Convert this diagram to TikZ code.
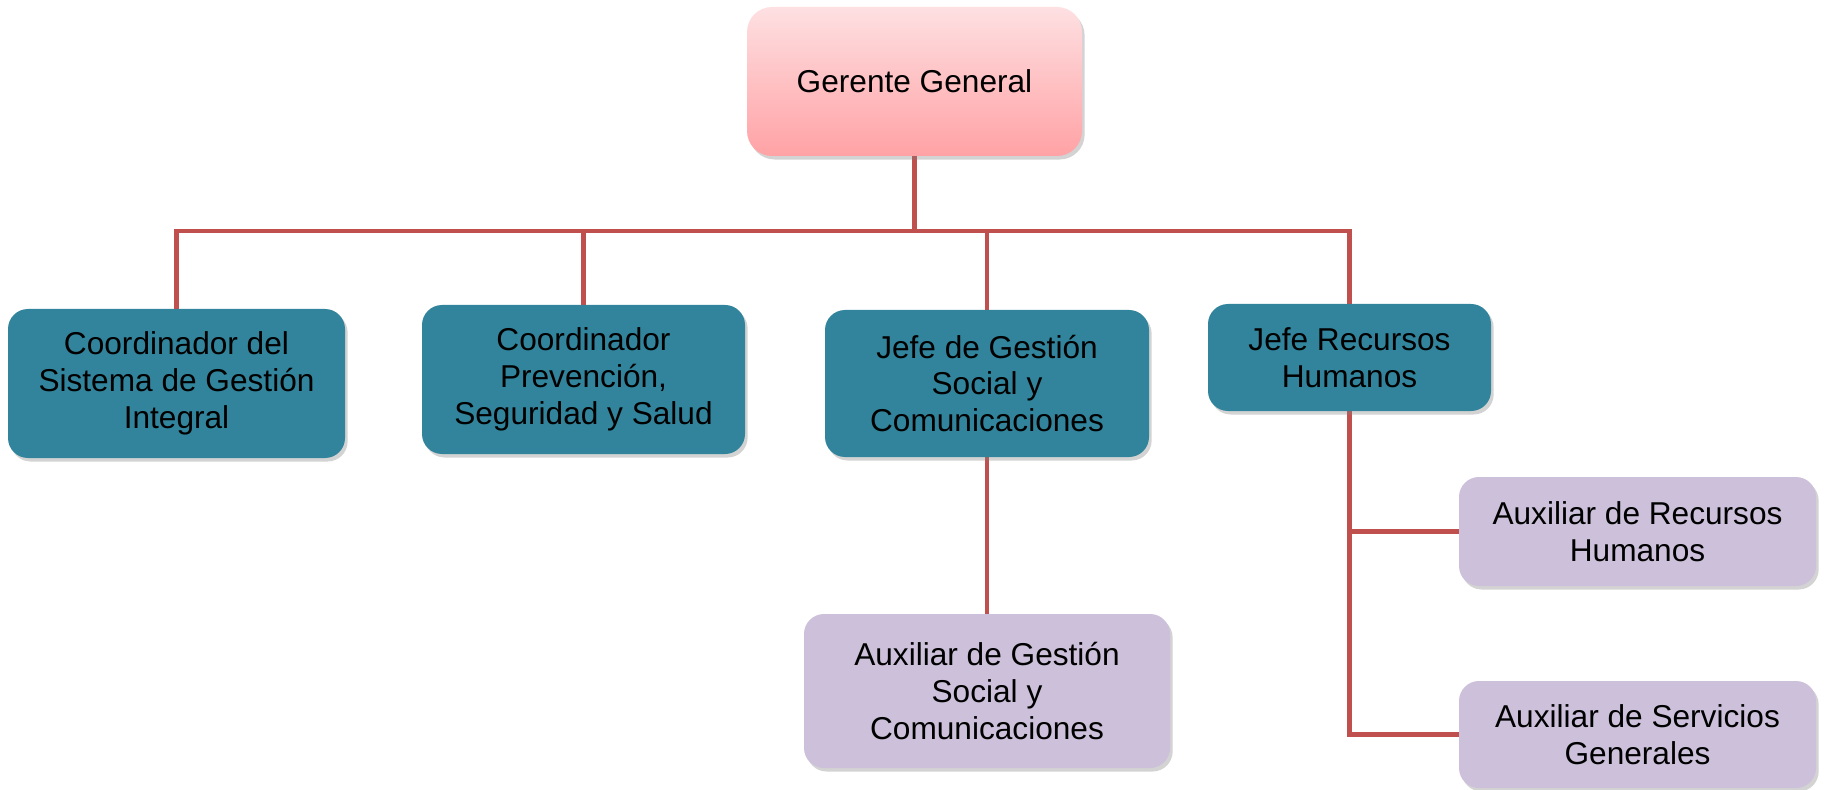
\documentclass[tikz,border=0pt]{standalone}
\usepackage{fontspec}
\setmainfont{Liberation Sans}
\usepackage{tikz}
\usetikzlibrary{positioning,shadows,backgrounds,calc}
\definecolor{ggtop}{HTML}{FEE0E2}
\definecolor{ggbot}{HTML}{FFA2A5}
\definecolor{jefe}{HTML}{31849B}
\definecolor{aux}{HTML}{CCC0DA}
\definecolor{linea}{HTML}{C0504D}

\begin{document}
\begin{tikzpicture}[x=0.02cm, y=-0.02cm,
   caja/.style={rounded corners=0.4cm, inner sep=0pt, align=center,
     font=\fontsize{18}{21}\selectfont,
     drop shadow={shadow xshift=1.5pt, shadow yshift=-2pt, opacity=0.35}},
   gerente/.style={caja, top color=ggtop, bottom color=ggbot, rounded corners=0.5cm},
   jefebox/.style={caja, fill=jefe},
   auxbox/.style={caja, fill=aux},
   rama/.style={draw=linea, line width=2.6pt}]
  \useasboundingbox (0,0) rectangle (1825,790);
  \node[gerente, minimum width=335*0.02cm, minimum height=149*0.02cm] (gg) at (914.5, 81.5) {Gerente General};
  \node[jefebox, minimum width=337*0.02cm, minimum height=149*0.02cm] (c1) at (176.5, 383.5) {Coordinador del\\Sistema de Gestión\\Integral};
  \node[jefebox, minimum width=323*0.02cm, minimum height=149*0.02cm] (c2) at (583.5, 379.5) {Coordinador\\Prevención,\\Seguridad y Salud};
  \node[jefebox, minimum width=324*0.02cm, minimum height=147*0.02cm] (jg) at (987, 383.5) {Jefe de Gestión\\Social y\\Comunicaciones};
  \node[jefebox, minimum width=283*0.02cm, minimum height=107*0.02cm] (jr) at (1349.5, 357.5) {Jefe Recursos\\Humanos};
  \node[auxbox, minimum width=366*0.02cm, minimum height=154*0.02cm] (ag) at (987, 691) {Auxiliar de Gestión\\Social y\\Comunicaciones};
  \node[auxbox, minimum width=357*0.02cm, minimum height=109*0.02cm] (ar) at (1637.5, 531.5) {Auxiliar de Recursos\\Humanos};
  \node[auxbox, minimum width=357*0.02cm, minimum height=107*0.02cm] (as) at (1637.5, 734.5) {Auxiliar de Servicios\\Generales};
  \coordinate (bus) at (914.5, 231);
  % \coordinate (rh) at (1349.5, 531.5);
  \begin{scope}[on background layer]
    \path[rama] (gg.south) -- (bus);
    \path[rama] (c1.north) |- (bus);
    \path[rama] (c2.north) |- (bus);
    \path[rama] (jg.north) |- (bus);
    \path[rama] (jr.north) |- (bus);
    \path[rama] (jg.south) -- (ag.north);
    \path[rama] (jr.south) |- (ar.west);
    \path[rama] (jr.south) |- (as.west);
  \end{scope}
\end{tikzpicture}
\end{document}
